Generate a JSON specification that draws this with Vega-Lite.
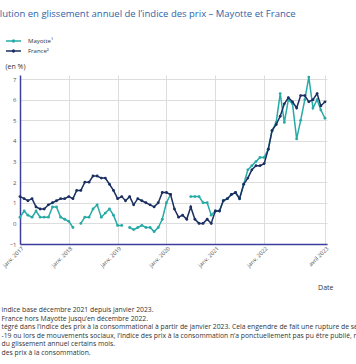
{
  "$schema": "https://vega.github.io/schema/vega-lite/v6.json",
  "autosize": {"type": "none"},
  "padding": {"left": 20, "top": 75, "right": 29, "bottom": 120},
  "width": 307,
  "height": 169,
  "background": "white",
  "config": {
    "font": "Open Sans",
    "view": {"stroke": null}
  },
  "title": {
    "text": "Évolution en glissement annuel de l’indice des prix – Mayotte et France",
    "anchor": "start",
    "frame": "group",
    "orient": "top",
    "dx": -36,
    "offset": 17,
    "fontSize": 9.5,
    "fontWeight": "normal",
    "color": "#2f64a8"
  },
  "data": {
    "values": [
      {"date": "2017-01-01", "serie": "Mayotte¹", "value": 0.3},
      {"date": "2017-02-01", "serie": "Mayotte¹", "value": 0.6},
      {"date": "2017-03-01", "serie": "Mayotte¹", "value": 0.4},
      {"date": "2017-04-01", "serie": "Mayotte¹", "value": 0.3},
      {"date": "2017-05-01", "serie": "Mayotte¹", "value": 0.6},
      {"date": "2017-06-01", "serie": "Mayotte¹", "value": 0.3},
      {"date": "2017-07-01", "serie": "Mayotte¹", "value": 0.3},
      {"date": "2017-08-01", "serie": "Mayotte¹", "value": 0.3},
      {"date": "2017-09-01", "serie": "Mayotte¹", "value": 0.8},
      {"date": "2017-10-01", "serie": "Mayotte¹", "value": 0.8},
      {"date": "2017-11-01", "serie": "Mayotte¹", "value": 0.3},
      {"date": "2017-12-01", "serie": "Mayotte¹", "value": 0.2},
      {"date": "2018-01-01", "serie": "Mayotte¹", "value": 0.1},
      {"date": "2018-02-01", "serie": "Mayotte¹", "value": -0.2},
      {"date": "2018-03-01", "serie": "Mayotte¹", "value": null},
      {"date": "2018-04-01", "serie": "Mayotte¹", "value": 0.0},
      {"date": "2018-05-01", "serie": "Mayotte¹", "value": 0.3},
      {"date": "2018-06-01", "serie": "Mayotte¹", "value": 0.3},
      {"date": "2018-07-01", "serie": "Mayotte¹", "value": 0.7},
      {"date": "2018-08-01", "serie": "Mayotte¹", "value": 0.9},
      {"date": "2018-09-01", "serie": "Mayotte¹", "value": 0.3},
      {"date": "2018-10-01", "serie": "Mayotte¹", "value": 0.5},
      {"date": "2018-11-01", "serie": "Mayotte¹", "value": 0.7},
      {"date": "2018-12-01", "serie": "Mayotte¹", "value": 0.4},
      {"date": "2019-01-01", "serie": "Mayotte¹", "value": -0.1},
      {"date": "2019-02-01", "serie": "Mayotte¹", "value": -0.1},
      {"date": "2019-03-01", "serie": "Mayotte¹", "value": null},
      {"date": "2019-04-01", "serie": "Mayotte¹", "value": -0.2},
      {"date": "2019-05-01", "serie": "Mayotte¹", "value": -0.3},
      {"date": "2019-06-01", "serie": "Mayotte¹", "value": -0.2},
      {"date": "2019-07-01", "serie": "Mayotte¹", "value": -0.1},
      {"date": "2019-08-01", "serie": "Mayotte¹", "value": -0.2},
      {"date": "2019-09-01", "serie": "Mayotte¹", "value": -0.2},
      {"date": "2019-10-01", "serie": "Mayotte¹", "value": -0.4},
      {"date": "2019-11-01", "serie": "Mayotte¹", "value": -0.2},
      {"date": "2019-12-01", "serie": "Mayotte¹", "value": 0.2},
      {"date": "2020-01-01", "serie": "Mayotte¹", "value": 1.0},
      {"date": "2020-02-01", "serie": "Mayotte¹", "value": 1.4},
      {"date": "2020-03-01", "serie": "Mayotte¹", "value": null},
      {"date": "2020-04-01", "serie": "Mayotte¹", "value": null},
      {"date": "2020-05-01", "serie": "Mayotte¹", "value": null},
      {"date": "2020-06-01", "serie": "Mayotte¹", "value": null},
      {"date": "2020-07-01", "serie": "Mayotte¹", "value": 1.3},
      {"date": "2020-08-01", "serie": "Mayotte¹", "value": 1.3},
      {"date": "2020-09-01", "serie": "Mayotte¹", "value": 1.3},
      {"date": "2020-10-01", "serie": "Mayotte¹", "value": 1.0},
      {"date": "2020-11-01", "serie": "Mayotte¹", "value": 1.0},
      {"date": "2020-12-01", "serie": "Mayotte¹", "value": 0.4},
      {"date": "2021-01-01", "serie": "Mayotte¹", "value": 0.6},
      {"date": "2021-02-01", "serie": "Mayotte¹", "value": 0.6},
      {"date": "2021-03-01", "serie": "Mayotte¹", "value": 1.1},
      {"date": "2021-04-01", "serie": "Mayotte¹", "value": 1.2},
      {"date": "2021-05-01", "serie": "Mayotte¹", "value": 1.4},
      {"date": "2021-06-01", "serie": "Mayotte¹", "value": 1.5},
      {"date": "2021-07-01", "serie": "Mayotte¹", "value": 1.2},
      {"date": "2021-08-01", "serie": "Mayotte¹", "value": 1.9},
      {"date": "2021-09-01", "serie": "Mayotte¹", "value": 2.6},
      {"date": "2021-10-01", "serie": "Mayotte¹", "value": 2.8},
      {"date": "2021-11-01", "serie": "Mayotte¹", "value": 3.0},
      {"date": "2021-12-01", "serie": "Mayotte¹", "value": 3.2},
      {"date": "2022-01-01", "serie": "Mayotte¹", "value": 3.2},
      {"date": "2022-02-01", "serie": "Mayotte¹", "value": 3.6},
      {"date": "2022-03-01", "serie": "Mayotte¹", "value": 4.5},
      {"date": "2022-04-01", "serie": "Mayotte¹", "value": 4.9},
      {"date": "2022-05-01", "serie": "Mayotte¹", "value": 6.3},
      {"date": "2022-06-01", "serie": "Mayotte¹", "value": 4.9},
      {"date": "2022-07-01", "serie": "Mayotte¹", "value": 6.0},
      {"date": "2022-08-01", "serie": "Mayotte¹", "value": 5.8},
      {"date": "2022-09-01", "serie": "Mayotte¹", "value": 4.1},
      {"date": "2022-10-01", "serie": "Mayotte¹", "value": 5.0},
      {"date": "2022-11-01", "serie": "Mayotte¹", "value": 6.0},
      {"date": "2022-12-01", "serie": "Mayotte¹", "value": 7.1},
      {"date": "2023-01-01", "serie": "Mayotte¹", "value": 5.6},
      {"date": "2023-02-01", "serie": "Mayotte¹", "value": 6.0},
      {"date": "2023-03-01", "serie": "Mayotte¹", "value": 5.5},
      {"date": "2023-04-01", "serie": "Mayotte¹", "value": 5.1},
      {"date": "2017-01-01", "serie": "France²", "value": 1.3},
      {"date": "2017-02-01", "serie": "France²", "value": 1.2},
      {"date": "2017-03-01", "serie": "France²", "value": 1.1},
      {"date": "2017-04-01", "serie": "France²", "value": 1.2},
      {"date": "2017-05-01", "serie": "France²", "value": 0.8},
      {"date": "2017-06-01", "serie": "France²", "value": 0.7},
      {"date": "2017-07-01", "serie": "France²", "value": 0.7},
      {"date": "2017-08-01", "serie": "France²", "value": 0.9},
      {"date": "2017-09-01", "serie": "France²", "value": 1.0},
      {"date": "2017-10-01", "serie": "France²", "value": 1.1},
      {"date": "2017-11-01", "serie": "France²", "value": 1.2},
      {"date": "2017-12-01", "serie": "France²", "value": 1.2},
      {"date": "2018-01-01", "serie": "France²", "value": 1.3},
      {"date": "2018-02-01", "serie": "France²", "value": 1.2},
      {"date": "2018-03-01", "serie": "France²", "value": 1.6},
      {"date": "2018-04-01", "serie": "France²", "value": 1.6},
      {"date": "2018-05-01", "serie": "France²", "value": 2.0},
      {"date": "2018-06-01", "serie": "France²", "value": 2.0},
      {"date": "2018-07-01", "serie": "France²", "value": 2.3},
      {"date": "2018-08-01", "serie": "France²", "value": 2.3},
      {"date": "2018-09-01", "serie": "France²", "value": 2.2},
      {"date": "2018-10-01", "serie": "France²", "value": 2.2},
      {"date": "2018-11-01", "serie": "France²", "value": 1.9},
      {"date": "2018-12-01", "serie": "France²", "value": 1.6},
      {"date": "2019-01-01", "serie": "France²", "value": 1.2},
      {"date": "2019-02-01", "serie": "France²", "value": 1.3},
      {"date": "2019-03-01", "serie": "France²", "value": 1.1},
      {"date": "2019-04-01", "serie": "France²", "value": 1.3},
      {"date": "2019-05-01", "serie": "France²", "value": 0.9},
      {"date": "2019-06-01", "serie": "France²", "value": 1.2},
      {"date": "2019-07-01", "serie": "France²", "value": 1.1},
      {"date": "2019-08-01", "serie": "France²", "value": 1.0},
      {"date": "2019-09-01", "serie": "France²", "value": 0.9},
      {"date": "2019-10-01", "serie": "France²", "value": 0.8},
      {"date": "2019-11-01", "serie": "France²", "value": 1.0},
      {"date": "2019-12-01", "serie": "France²", "value": 1.5},
      {"date": "2020-01-01", "serie": "France²", "value": 1.5},
      {"date": "2020-02-01", "serie": "France²", "value": 1.4},
      {"date": "2020-03-01", "serie": "France²", "value": 0.7},
      {"date": "2020-04-01", "serie": "France²", "value": 0.3},
      {"date": "2020-05-01", "serie": "France²", "value": 0.4},
      {"date": "2020-06-01", "serie": "France²", "value": 0.2},
      {"date": "2020-07-01", "serie": "France²", "value": 0.8},
      {"date": "2020-08-01", "serie": "France²", "value": 0.2},
      {"date": "2020-09-01", "serie": "France²", "value": 0.0},
      {"date": "2020-10-01", "serie": "France²", "value": 0.0},
      {"date": "2020-11-01", "serie": "France²", "value": 0.2},
      {"date": "2020-12-01", "serie": "France²", "value": 0.0},
      {"date": "2021-01-01", "serie": "France²", "value": 0.6},
      {"date": "2021-02-01", "serie": "France²", "value": 0.6},
      {"date": "2021-03-01", "serie": "France²", "value": 1.1},
      {"date": "2021-04-01", "serie": "France²", "value": 1.2},
      {"date": "2021-05-01", "serie": "France²", "value": 1.4},
      {"date": "2021-06-01", "serie": "France²", "value": 1.5},
      {"date": "2021-07-01", "serie": "France²", "value": 1.2},
      {"date": "2021-08-01", "serie": "France²", "value": 1.9},
      {"date": "2021-09-01", "serie": "France²", "value": 2.2},
      {"date": "2021-10-01", "serie": "France²", "value": 2.6},
      {"date": "2021-11-01", "serie": "France²", "value": 2.8},
      {"date": "2021-12-01", "serie": "France²", "value": 2.8},
      {"date": "2022-01-01", "serie": "France²", "value": 2.9},
      {"date": "2022-02-01", "serie": "France²", "value": 3.6},
      {"date": "2022-03-01", "serie": "France²", "value": 4.5},
      {"date": "2022-04-01", "serie": "France²", "value": 4.8},
      {"date": "2022-05-01", "serie": "France²", "value": 5.2},
      {"date": "2022-06-01", "serie": "France²", "value": 5.8},
      {"date": "2022-07-01", "serie": "France²", "value": 6.1},
      {"date": "2022-08-01", "serie": "France²", "value": 5.9},
      {"date": "2022-09-01", "serie": "France²", "value": 5.6},
      {"date": "2022-10-01", "serie": "France²", "value": 6.2},
      {"date": "2022-11-01", "serie": "France²", "value": 6.2},
      {"date": "2022-12-01", "serie": "France²", "value": 5.9},
      {"date": "2023-01-01", "serie": "France²", "value": 6.0},
      {"date": "2023-02-01", "serie": "France²", "value": 6.3},
      {"date": "2023-03-01", "serie": "France²", "value": 5.7},
      {"date": "2023-04-01", "serie": "France²", "value": 5.9}
    ]
  },
  "encoding": {
    "x": {
      "field": "date",
      "type": "temporal",
      "scale": {
        "type": "utc",
        "domain": [
          {"year": 2017, "month": 1, "date": 1, "utc": true},
          {"year": 2023, "month": 4, "date": 16, "utc": true}
        ]
      },
      "axis": {
        "values": [
          {"year": 2017, "month": 1, "date": 1, "utc": true},
          {"year": 2018, "month": 1, "date": 1, "utc": true},
          {"year": 2019, "month": 1, "date": 1, "utc": true},
          {"year": 2020, "month": 1, "date": 1, "utc": true},
          {"year": 2021, "month": 1, "date": 1, "utc": true},
          {"year": 2022, "month": 1, "date": 1, "utc": true},
          {"year": 2023, "month": 4, "date": 1, "utc": true}
        ],
        "labelExpr": "(utcmonth(datum.value) == 0 ? 'janv. ' : 'avril ') + utcyear(datum.value)",
        "labelAngle": -45,
        "labelAlign": "right",
        "labelBaseline": "middle",
        "labelPadding": 3,
        "labelOffset": 2,
        "labelFontSize": 5.6,
        "labelColor": "#555555",
        "labelFlush": false,
        "labelOverlap": false,
        "ticks": false,
        "grid": true,
        "gridColor": "#dddddd",
        "gridWidth": 1,
        "domainColor": "#3d3d9e",
        "domainWidth": 1.5,
        "title": "Date",
        "titleX": 313,
        "titleY": 45,
        "titleAlign": "right",
        "titleBaseline": "alphabetic",
        "titleFontSize": 7,
        "titleFontWeight": "normal",
        "titleColor": "#333333"
      }
    },
    "color": {
      "field": "serie",
      "type": "nominal",
      "scale": {"domain": ["Mayotte¹", "France²"], "range": ["#26aaa6", "#1b2f61"]},
      "legend": {
        "orient": "none",
        "legendX": -12.5,
        "legendY": -40,
        "title": null,
        "symbolType": "M-1.5,0H1.5M-0.2,0a0.2,0.2 0 1,0 0.4,0a0.2,0.2 0 1,0 -0.4,0",
        "symbolSize": 100,
        "symbolStrokeWidth": 1.3,
        "labelOffset": 8.5,
        "labelFontSize": 6,
        "labelColor": "#333333",
        "rowPadding": -1
      }
    }
  },
  "layer": [
    {
      "transform": [{"filter": "datum.serie == 'Mayotte¹'"}],
      "mark": {"type": "line", "strokeWidth": 1.5, "invalid": "break-paths-show-domains", "point": {"filled": true, "size": 8}},
      "encoding": {
        "y": {
          "field": "value",
          "type": "quantitative",
          "scale": {"domain": [-1, 7.2], "nice": false},
          "axis": {
            "values": [-1, 0, 1, 2, 3, 4, 5, 6, 7],
            "ticks": false,
            "labelFontSize": 6,
            "labelColor": "#555555",
            "labelPadding": 4,
            "grid": true,
            "gridColor": "#dddddd",
            "domainColor": "#3d3d9e",
            "domainWidth": 1.5,
            "title": "(en %)",
            "titleAngle": 0,
            "titleX": -15,
            "titleY": -7,
            "titleAlign": "left",
            "titleBaseline": "alphabetic",
            "titleFontSize": 7,
            "titleFontWeight": "normal",
            "titleColor": "#333333"
          }
        }
      }
    },
    {
      "transform": [{"filter": "datum.serie == 'France²'"}],
      "mark": {"type": "line", "strokeWidth": 1.5, "invalid": "break-paths-show-domains", "point": {"filled": true, "size": 8}},
      "encoding": {
        "y": {
          "field": "value",
          "type": "quantitative",
          "scale": {"domain": [-1, 7.2], "nice": false},
          "axis": {
            "orient": "right",
            "labels": false,
            "ticks": false,
            "domain": false,
            "grid": false,
            "title": [
              "indice base décembre 2021 depuis janvier 2023.",
              " France hors Mayotte jusqu’en décembre 2022.",
              "tégré dans l’indice des prix à la consommational à partir de janvier 2023. Cela engendre de fait une rupture de série.",
              "-19 ou lors de mouvements sociaux, l’indice des prix à la consommation n’a ponctuellement pas pu être publié, rendant impossible le calcul",
              "du glissement annuel certains mois.",
              "des prix à la consommation."
            ],
            "titleAngle": 0,
            "titleX": -326,
            "titleY": 236.5,
            "titleAlign": "left",
            "titleBaseline": "alphabetic",
            "titleFontSize": 6.8,
            "titleLineHeight": 8.6,
            "titleFontWeight": "normal",
            "titleColor": "#333333",
            "titleLimit": 1000
          }
        }
      }
    }
  ],
  "resolve": {"axis": {"y": "independent"}}
}
